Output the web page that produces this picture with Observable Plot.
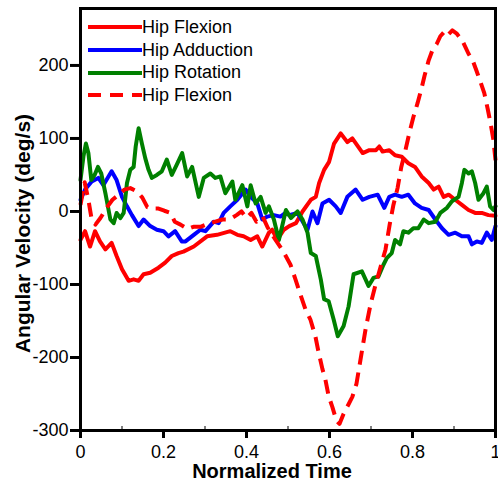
<!DOCTYPE html>
<html>
<head>
<meta charset="utf-8">
<script src="https://cdn.jsdelivr.net/npm/d3@7"></script>
<script src="https://cdn.jsdelivr.net/npm/@observablehq/plot@0.6"></script>
<style>
  html, body { margin: 0; padding: 0; background: #fff; }
  #wrap { position: relative; width: 498px; height: 485px; font-family: "Liberation Sans", Arial, sans-serif; }
  #legend { position: absolute; left: 88px; top: 16px; }
  .row { display: flex; align-items: center; height: 22.7px; font-size: 18px; color: #000; }
  .row svg { width: 54px; height: 10px; margin-right: 0px; }
</style>
</head>
<body>
<div id="wrap"><div id="legend"></div></div>
<script>
// Series names (legend order)
const seriesNames = ["Hip Flexion", "Hip Adduction", "Hip Rotation", "Hip Flexion (2)"];
const seriesLabels = ["Hip Flexion", "Hip Adduction", "Hip Rotation", "Hip Flexion"];
const seriesColors = ["#ff0000", "#0000ff", "#008000", "#ff0000"];

// Hip Flexion (solid red)
const flexT = [0,.011,.023,.035,.047,.060,.075,.087,.100,.116,.128,.140,.152,.168,.188,.204,.220,.236,.248,.273,.305,.329,.361,.378,.393,.410,.426,.438,.454,.462,.474,.490,.503,.519,.535,.555,.567,.575,.587,.599,.611,.627,.643,.655,.680,.696,.712,.720,.728,.744,.758,.774,.790,.806,.822,.839,.851,.863,.875,.887,.903,.919,.935,.951,.967,.983,1.0];
const flexV = [-39,-27,-48,-27,-41,-52,-43,-61,-79,-95,-93,-95,-86,-84,-77,-70,-61,-57,-55,-48,-34,-32,-27,-32,-34,-39,-34,-48,-29,-25,-39,-25,-20,-16,0,16,20,39,57,68,93,107,95,100,80,84,84,89,82,84,77,75,66,61,48,39,30,34,20,23,16,9,2,-2,-2,-5,-6];

// Hip Adduction (blue)
const addT = [0,.011,.027,.043,.055,.075,.087,.100,.112,.124,.140,.152,.168,.184,.200,.212,.228,.244,.253,.273,.289,.301,.321,.333,.345,.361,.378,.398,.410,.426,.438,.450,.466,.482,.494,.503,.523,.547,.559,.571,.583,.599,.615,.627,.643,.663,.680,.696,.716,.732,.744,.758,.774,.790,.806,.822,.839,.855,.871,.887,.903,.919,.935,.943,.955,.967,.979,.991,1.0];
const addV = [16,30,41,46,36,55,43,20,7,-5,-20,-11,-20,-25,-27,-34,-27,-41,-41,-32,-25,-27,-14,-16,-2,7,16,30,20,11,-11,-7,-5,-7,-2,-5,-2,-25,0,-16,11,16,7,-2,20,30,16,20,23,5,20,23,20,23,11,5,2,-11,-23,-32,-29,-34,-34,-45,-41,-43,-29,-39,-20];

// Hip Rotation (green)
const rotT = [0,.007,.013,.019,.026,.034,.042,.050,.060,.072,.080,.087,.096,.104,.112,.120,.128,.133,.140,.148,.156,.164,.172,.184,.196,.208,.220,.232,.245,.257,.269,.285,.297,.313,.325,.337,.349,.366,.373,.390,.402,.410,.422,.434,.446,.454,.466,.478,.486,.495,.507,.523,.535,.547,.555,.567,.579,.587,.598,.610,.620,.634,.646,.658,.678,.694,.706,.718,.730,.738,.750,.758,.770,.778,.790,.802,.814,.827,.839,.855,.867,.883,.895,.911,.919,.925,.935,.943,.951,.959,.971,.979,.987,.995,1.0];
const rotV = [43,75,93,80,43,50,61,52,25,-11,-16,-2,-9,-2,39,57,61,89,114,93,73,57,46,50,55,71,50,64,80,48,61,20,46,52,46,48,25,41,16,36,7,36,11,20,-2,7,-11,-39,-20,2,-9,0,-11,-29,-57,-61,-93,-120,-123,-148,-171,-157,-130,-86,-82,-102,-91,-89,-73,-64,-57,-39,-45,-27,-29,-23,-23,-11,-16,-14,-2,5,14,20,39,57,52,55,39,16,25,34,7,2,7];

// Hip Flexion (dashed red)
const flex2T = [0,.010,.019,.027,.036,.048,.063,.077,.092,.106,.120,.137,.149,.161,.176,.188,.202,.217,.227,.241,.258,.272,.289,.306,.325,.342,.359,.376,.388,.400,.412,.424,.439,.451,.470,.489,.506,.518,.530,.542,.554,.566,.573,.583,.590,.598,.607,.617,.624,.634,.646,.655,.665,.675,.687,.699,.711,.723,.735,.745,.754,.764,.773,.783,.793,.802,.812,.822,.829,.839,.848,.858,.867,.875,.882,.889,.896,.906,.920,.935,.945,.954,.964,.973,.981,.988,.995,1.0];
const flex2V = [9,40,16,-11,-18,-9,5,16,23,30,32,27,19,6,4,4,1,-2,-14,-18,-24,-21,-21,-17,-14,-11,-11,-5,0,-9,-2,-14,-7,-22,-39,-55,-73,-93,-114,-134,-148,-171,-191,-216,-230,-253,-268,-287,-291,-277,-264,-254,-236,-202,-161,-127,-100,-76,-52,-18,9,32,61,84,109,129,148,169,186,207,221,229,240,245,240,244,248,244,234,216,207,193,177,162,141,121,98,70];

// Axis ticks
const yTicks = [-300, -200, -100, 0, 100, 200];
const xTicks = [0, 0.2, 0.4, 0.6, 0.8, 1];
const xMinorTicks = [0.1, 0.3, 0.5, 0.7, 0.9];

const seriesT = [flexT, addT, rotT, flex2T];
const seriesV = [flexV, addV, rotV, flex2V];
const data = seriesNames.flatMap((name, k) => seriesT[k].map((t, i) => ({series: name, t, v: seriesV[k][i]})));

const font = "Liberation Sans, Arial, sans-serif";
const lineMark = (k, extra = {}) => Plot.line(data.filter(d => d.series === seriesNames[k]), {
  x: "t", y: "v", stroke: seriesColors[k], strokeWidth: 4, strokeLinejoin: "round", ...extra
});

const chart = Plot.plot({
  width: 498,
  height: 485,
  marginLeft: 80,
  marginRight: 3,
  marginTop: 8,
  marginBottom: 55,
  style: {fontFamily: font, color: "#000", background: "#fff"},
  x: {domain: [0, 1]},
  y: {domain: [-300, 278]},
  marks: [
    lineMark(0),
    lineMark(1),
    lineMark(2),
    lineMark(3, {strokeDasharray: "14,8", strokeLinecap: "butt"}),
    Plot.axisY(yTicks, {tickSize: 10, strokeWidth: 3, tickPadding: 2, fontSize: 18, label: null, tickFormat: d => String(d)}),
    Plot.axisX(xTicks, {tickSize: 8, strokeWidth: 3, tickPadding: 7, fontSize: 18, label: null, tickFormat: d => String(d)}),
    Plot.axisX(xMinorTicks, {tickSize: -4, strokeWidth: 1, text: null, label: null}),
    Plot.frame({stroke: "#000", strokeWidth: 3}),
    Plot.text(["Angular Velocity (deg/s)"], {frameAnchor: "left", dx: -57, dy: 14, rotate: -90, textAnchor: "middle", lineAnchor: "middle", fontSize: 21, fontWeight: "bold", text: d => d}),
    Plot.text(["Normalized Time"], {frameAnchor: "bottom", dx: -16, dy: 41, textAnchor: "middle", lineAnchor: "middle", fontSize: 20, fontWeight: "bold", text: d => d})
  ]
});
const wrap = document.getElementById("wrap");
wrap.insertBefore(chart, wrap.firstChild);

// Legend overlay
const legend = document.getElementById("legend");
seriesNames.forEach((name, k) => {
  const row = document.createElement("div");
  row.className = "row";
  const dash = k === 3 ? 'stroke-dasharray="13,9"' : "";
  row.innerHTML = `<svg viewBox="0 0 54 10"><line x1="0" y1="5" x2="54" y2="5" stroke="${seriesColors[k]}" stroke-width="4" ${dash}/></svg><span>${seriesLabels[k]}</span>`;
  legend.appendChild(row);
});
</script>
</body>
</html>
